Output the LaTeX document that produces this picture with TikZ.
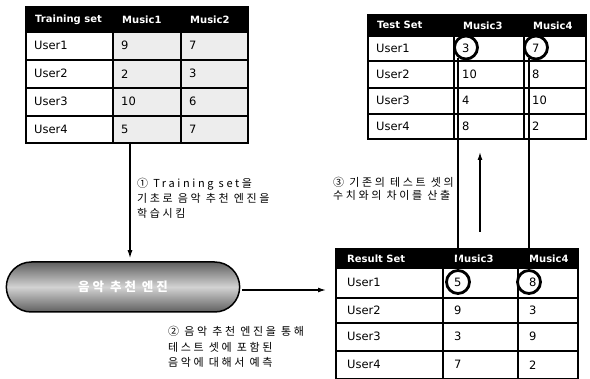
\documentclass[tikz,border=0pt]{standalone}
\usepackage{fontspec}
\usetikzlibrary{arrows.meta,shapes.misc}
\newfontfamily\tblfont{DejaVu Sans}
\newfontfamily\krfont[LetterSpace=24]{Noto Sans CJK KR}
\newcommand{\cellbox}[8]{%
  \pgfmathsetmacro\cbw{#4-#2}\pgfmathsetmacro\cbh{#5-#3}%
  \node[#6, minimum width=\cbw pt, minimum height=\cbh pt, anchor=north west] (#1) at (#2,#3) {};
  \node[#7, anchor=west] (#1t) at (#1.west) {#8};
}
\tikzset{
  bx/.style={draw=black, line width=1.6pt, fill=white, inner sep=0pt},
  gbx/.style={bx, fill=gray!14},
  hbx/.style={draw=black, line width=1.6pt, fill=black, inner sep=0pt},
  tx/.style={font=\tblfont\fontsize{11.5}{13}\selectfont, xshift=9pt, inner sep=0pt},
  rtx/.style={font=\tblfont\fontsize{11.5}{13}\selectfont, xshift=12pt, inner sep=0pt},
  htx/.style={font=\tblfont\bfseries\fontsize{10}{11}\selectfont, text=white, xshift=10pt, inner sep=0pt},
  rhtx/.style={font=\tblfont\bfseries\fontsize{10}{11}\selectfont, text=white, xshift=12pt, inner sep=0pt},
  arr/.style={draw=black, line width=1.3pt, -{Latex[length=8pt,width=5pt]}},
  link/.style={draw=black, line width=2pt},
  ring/.style={circle, draw=black, line width=2.8pt, minimum size=23pt, inner sep=0pt},
  pill/.style={rounded rectangle, minimum width=240pt, minimum height=50pt, draw=black, line width=1.5pt,
    top color=gray!75!black, bottom color=gray!75!black, middle color=gray!35, text=white,
    font=\krfont\bfseries\fontsize{12.5}{14}\selectfont},
  lbl/.style={font=\krfont\fontsize{11}{15}\selectfont, align=left, inner sep=0pt},
  lblb/.style={font=\krfont\fontsize{11}{15.5}\selectfont, align=left, inner sep=0pt},
  lblc/.style={font=\krfont\fontsize{11}{12.5}\selectfont, align=left, inner sep=0pt},
}
\begin{document}
\begin{tikzpicture}[x=1pt,y=-1pt]
\useasboundingbox (0,0) rectangle (590,379);
% ---------- Training table
\cellbox{trh0}{25}{6}{112}{31}{hbx}{htx}{Training set}
\cellbox{trh1}{112}{6}{180}{31}{hbx}{htx}{Music1}
\cellbox{trh2}{180}{6}{247}{31}{hbx}{htx}{Music2}
\foreach \r/\ya/\yb/\u/\a/\b in {1/31/59/User1/9/7, 2/59/87/User2/2/3, 3/87/115/User3/10/6, 4/115/142/User4/5/7}{
  \cellbox{tr\r u}{25}{\ya}{112}{\yb}{bx}{tx}{\u}
  \cellbox{tr\r a}{112}{\ya}{180}{\yb}{gbx}{tx}{\a}
  \cellbox{tr\r b}{180}{\ya}{247}{\yb}{gbx}{tx}{\b}
}
% ---------- Test table
\cellbox{tsh0}{367}{14}{453}{35}{hbx}{htx}{Test Set}
\cellbox{tsh1}{453}{14}{523}{35}{hbx}{htx}{Music3}
\cellbox{tsh2}{523}{14}{585}{35}{hbx}{htx}{Music4}
\foreach \r/\ya/\yb/\u/\a/\b in {1/35/60/User1/3/7, 2/60/87/User2/10/8, 3/87/113/User3/4/10, 4/113/138/User4/8/2}{
  \cellbox{ts\r u}{367}{\ya}{453}{\yb}{bx}{tx}{\u}
  \cellbox{ts\r a}{453}{\ya}{523}{\yb}{bx}{tx}{\a}
  \cellbox{ts\r b}{523}{\ya}{585}{\yb}{bx}{tx}{\b}
}
% ---------- Result table
\cellbox{rsh0}{335}{248}{442}{267}{hbx}{rhtx}{Result Set}
\cellbox{rsh1}{442}{248}{517}{267}{hbx}{rhtx}{Music3}
\cellbox{rsh2}{517}{248}{577}{267}{hbx}{rhtx}{Music4}
\foreach \r/\ya/\yb/\u/\a/\b in {1/267/297/User1/5/8, 2/297/322/User2/9/3, 3/322/350/User3/3/9, 4/350/378/User4/7/2}{
  \cellbox{rs\r u}{335}{\ya}{442}{\yb}{bx}{rtx}{\u}
  \cellbox{rs\r a}{442}{\ya}{517}{\yb}{bx}{rtx}{\a}
  \cellbox{rs\r b}{517}{\ya}{577}{\yb}{bx}{rtx}{\b}
}
% ---------- circles
\node[ring] (c3) at (466,47.5) {};
\node[ring] (c7) at (536,47.5) {};
\node[ring] (c5) at (458,282) {};
\node[ring] (c8) at (529,282) {};
\coordinate (l1a) at (458,58);
\coordinate (l2a) at (529,58);
\draw[link] (l1a) -- (c5.north);
\draw[link] (l2a) -- (c8.north);
% ---------- engine
\node[pill] (eng) at (123,287) {음악 추천 엔진};
\coordinate (d1) at (130,142);
\draw[arr, shorten >=3pt] (d1) -- (d1 |- eng.north);
\coordinate (r1) at (326,290);
\draw[arr, shorten <=2pt] (eng.east |- r1) -- (r1);
\coordinate (u0) at (480,232);
\coordinate (u1) at (480,152);
\draw[arr] (u0) -- (u1);
% ---------- labels
\node[lbl, anchor=north west] (lab1) at (137,178) {① Training set을\\기초로 음악 추천 엔진을\\학습시킴};
\node[lblb, anchor=north west] (lab2) at (168,326) {② 음악 추천 엔진을 통해\\테스트 셋에 포함된\\음악에 대해서 예측};
\node[lblc, anchor=north west] (lab3) at (333,177) {③ 기존의 테스트 셋의\\수치와의 차이를 산출};
\end{tikzpicture}
\end{document}
